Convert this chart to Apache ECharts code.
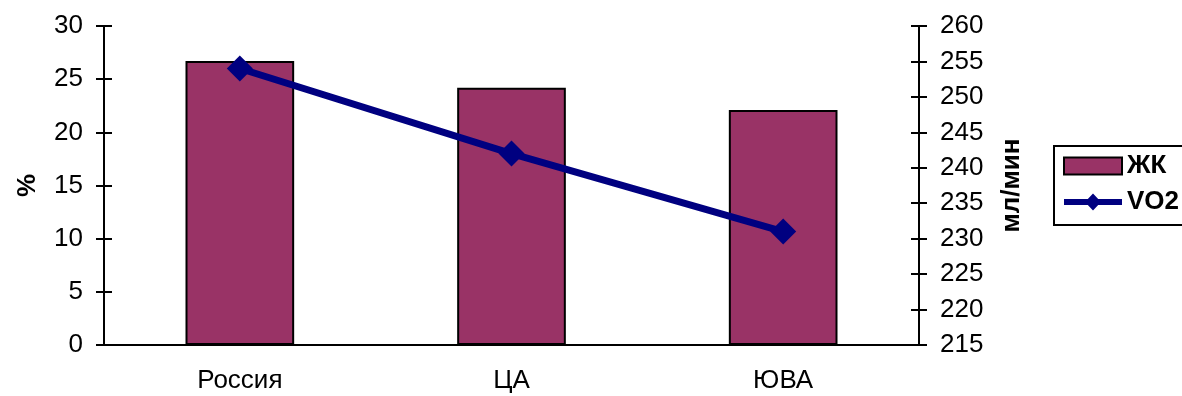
<!DOCTYPE html>
<html>
<head>
<meta charset="utf-8">
<script src="https://cdn.jsdelivr.net/npm/echarts@6/dist/echarts.min.js"></script>
<style>
  html, body { margin: 0; padding: 0; background: #fff; }
  #chart { width: 1182px; height: 396px; }
</style>
</head>
<body>
<div id="chart"></div>
<script>
// Regions
const categories = ['Россия', 'ЦА', 'ЮВА'];
// Share, %
const zkValues = [26.7, 24.2, 22.1];
// Oxygen uptake, ml/min
const vo2Values = [254, 242, 231];

const FONT = '"Liberation Sans", Arial, sans-serif';
const tickLen = 8;
const labelSize = 26;

// Legend icon for the line series: thick stroke with a diamond marker
const lineIcon = 'path://M0,5.5 L58,5.5 L58,11.5 L0,11.5 Z M29,0 L37,8.5 L29,17 L21,8.5 Z';

const chart = echarts.init(document.getElementById('chart'), null, { renderer: 'canvas' });

const baseLeft = { type: 'value', min: 0, max: 30, interval: 5 };
const baseRight = { type: 'value', min: 215, max: 260, interval: 5 };

chart.setOption({
  animation: false,
  backgroundColor: '#ffffff',
  textStyle: { fontFamily: FONT },
  grid: { left: 104, right: 263, top: 26, bottom: 51 },
  legend: {
    orient: 'vertical',
    left: 1054,
    top: 146,
    padding: [7, 24, 10, 9],
    itemGap: 10,
    itemWidth: 58,
    itemHeight: 17,
    borderColor: '#000',
    borderWidth: 2,
    textStyle: { fontFamily: FONT, fontSize: 26, lineHeight: 26, fontWeight: 'bold', color: '#000' },
    data: [
      { name: 'ЖК', icon: 'rect', itemStyle: { color: '#993366', borderColor: '#000', borderWidth: 2 } },
      { name: 'VO2', icon: lineIcon, itemStyle: { color: '#000080', borderWidth: 0 } }
    ]
  },
  xAxis: [
    {
      type: 'category', data: categories, position: 'bottom', boundaryGap: true,
      axisLine: { lineStyle: { color: '#000', width: 2 } },
      axisTick: { inside: false, length: tickLen, lineStyle: { color: '#000', width: 2 } },
      axisLabel: { color: '#000', fontSize: labelSize, fontFamily: FONT, margin: 23 }
    },
    {
      type: 'category', data: categories, position: 'bottom', boundaryGap: true,
      axisLine: { show: false },
      axisTick: { inside: true, length: tickLen, lineStyle: { color: '#000', width: 2 } },
      axisLabel: { show: false }
    }
  ],
  yAxis: [
    Object.assign({}, baseLeft, {
      position: 'left',
      name: '%', nameLocation: 'middle', nameGap: 63, nameRotate: 90,
      nameTextStyle: { color: '#000', fontSize: 26, fontWeight: 'bold', fontFamily: FONT },
      axisLine: { show: true, lineStyle: { color: '#000', width: 2 } },
      axisTick: { show: true, inside: false, length: tickLen, lineStyle: { color: '#000', width: 2 } },
      axisLabel: { color: '#000', fontSize: labelSize, fontFamily: FONT, margin: 21 },
      splitLine: { show: false }
    }),
    Object.assign({}, baseRight, {
      position: 'right',
      name: 'мл/мин', nameLocation: 'middle', nameGap: 80, nameRotate: 90,
      nameTextStyle: { color: '#000', fontSize: 26, fontWeight: 'bold', fontFamily: FONT },
      axisLine: { show: true, lineStyle: { color: '#000', width: 2 } },
      axisTick: { show: true, inside: false, length: tickLen, lineStyle: { color: '#000', width: 2 } },
      axisLabel: { color: '#000', fontSize: labelSize, fontFamily: FONT, margin: 21 },
      splitLine: { show: false }
    }),
    // inner halves of the crossing tick marks
    Object.assign({}, baseLeft, {
      position: 'left',
      axisLine: { show: false },
      axisTick: { show: true, inside: true, length: tickLen, lineStyle: { color: '#000', width: 2 } },
      axisLabel: { show: false },
      splitLine: { show: false }
    }),
    Object.assign({}, baseRight, {
      position: 'right',
      axisLine: { show: false },
      axisTick: { show: true, inside: true, length: tickLen, lineStyle: { color: '#000', width: 2 } },
      axisLabel: { show: false },
      splitLine: { show: false }
    })
  ],
  series: [
    {
      name: 'ЖК',
      type: 'bar',
      xAxisIndex: 0,
      yAxisIndex: 0,
      data: zkValues,
      barWidth: '40%',
      itemStyle: { color: '#993366', borderColor: '#000', borderWidth: 2 },
      z: 2
    },
    {
      name: 'VO2',
      type: 'line',
      xAxisIndex: 0,
      yAxisIndex: 1,
      data: vo2Values,
      symbol: 'diamond',
      symbolSize: 26,
      lineStyle: { color: '#000080', width: 7 },
      itemStyle: { color: '#000080' },
      z: 3
    }
  ]
});
</script>
</body>
</html>
